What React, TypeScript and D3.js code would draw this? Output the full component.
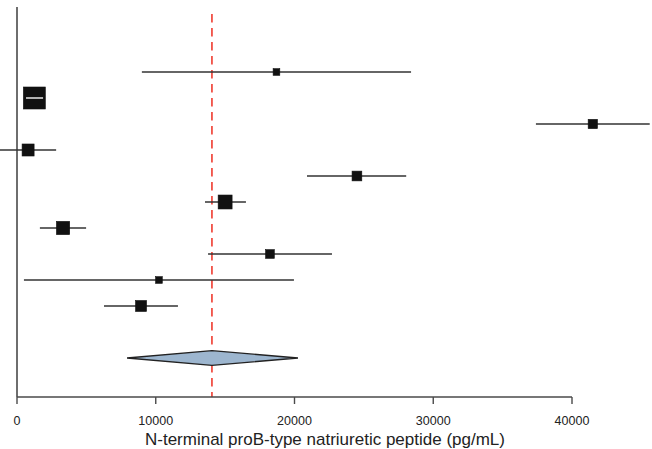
import React from "react";
import * as d3 from "d3";

// Per-study NT-proBNP estimates (pg/mL) with 95% confidence limits
const estimates = [18700, 1250, 41500, 800, 24500, 15000, 3320, 18230, 10230, 8940];
const lowerCI = [9000, 650, 37400, -1230, 20900, 13550, 1650, 13770, 500, 6270];
const upperCI = [28400, 1880, 45600, 2820, 28050, 16500, 4980, 22700, 19960, 11600];
// Relative study weights (%)
const weights = [5.9, 19.4, 8.2, 10.6, 8.6, 12.3, 11.7, 7.7, 5.9, 9.7];

// Pooled estimate with its confidence limits
const pooled = { est: 14050, lo: 7930, hi: 20250 };

const xTicks = [0, 10000, 20000, 30000, 40000];
const xTitle = "N-terminal proB-type natriuretic peptide (pg/mL)";

const W = 652;
const H = 449;
const FONT = "'Liberation Sans', Arial, Helvetica, sans-serif";

export default function App() {
  const x = d3.scaleLinear().domain([0, 40000]).range([17, 572]);
  // Row index -> vertical position; the pooled diamond sits one blank row below the studies
  const y = d3.scaleLinear().domain([0, 11]).range([72, 358]);
  const boxSize = d3.scaleLinear().domain([0, d3.max(weights) as number]).range([0, 22]);

  const axisY = 397;
  const axisTop = 7;
  const ciColor = "#333";

  const diamondY = y(11);
  const dh = 7.3;
  const diamond = d3.line()([
    [x(pooled.lo), diamondY],
    [x(pooled.est), diamondY - dh],
    [x(pooled.hi), diamondY],
    [x(pooled.est), diamondY + dh],
  ]) + "Z";

  return (
    <svg
      width={W}
      height={H}
      style={{ position: "absolute", left: 0, top: 0, background: "#fff" }}
      fontFamily={FONT}
    >
      {/* reference line at the pooled estimate */}
      <line
        x1={x(pooled.est)}
        x2={x(pooled.est)}
        y1={14}
        y2={axisY}
        stroke="#ef3b2f"
        strokeWidth={1.6}
        strokeDasharray="8.5,5.5"
      />

      {/* axes */}
      <line x1={x(0)} x2={x(0)} y1={axisTop} y2={axisY} stroke="#4a4a4a" strokeWidth={1.6} />
      <line x1={x(0)} x2={x(40000)} y1={axisY} y2={axisY} stroke="#4a4a4a" strokeWidth={1.6} />
      {xTicks.map((t) => (
        <g key={t}>
          <line x1={x(t)} x2={x(t)} y1={axisY} y2={axisY + 7} stroke="#4a4a4a" strokeWidth={1.4} />
          <text x={x(t)} y={425} textAnchor="middle" fontSize={12.5} fill="#222">
            {t}
          </text>
        </g>
      ))}
      <text x={325} y={445} textAnchor="middle" fontSize={17} fill="#222">
        {xTitle}
      </text>

      {/* study estimates */}
      {estimates.map((est, i) => {
        const cy = y(i);
        const s = boxSize(weights[i]);
        const x0 = x(lowerCI[i]);
        const x1 = x(upperCI[i]);
        const cx = x(est);
        const inside = x0 >= cx - s / 2 && x1 <= cx + s / 2;
        return (
          <g key={i}>
            <line x1={x0} x2={x1} y1={cy} y2={cy} stroke={ciColor} strokeWidth={1.4} />
            <rect x={cx - s / 2} y={cy - s / 2} width={s} height={s} fill="#111" stroke="#111" strokeWidth={0.6} />
            {inside && (
              <line x1={x0} x2={x1} y1={cy} y2={cy} stroke="#ddd" strokeWidth={1.6} />
            )}
          </g>
        );
      })}

      {/* pooled estimate */}
      <path d={diamond} fill="#9db6cf" stroke="#222" strokeWidth={1.3} strokeLinejoin="miter" />
    </svg>
  );
}
